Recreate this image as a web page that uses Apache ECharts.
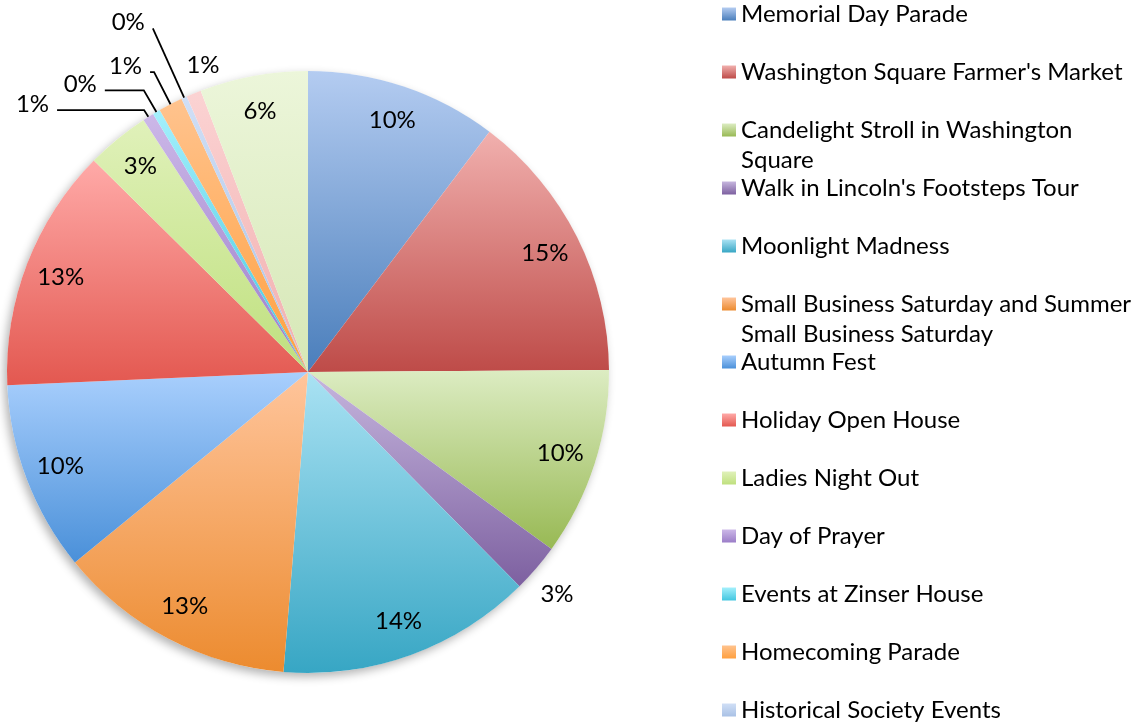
<!DOCTYPE html>
<html>
<head>
<meta charset="utf-8">
<script src="https://cdn.jsdelivr.net/npm/echarts@6/dist/echarts.min.js"></script>
<style>
  html, body { margin: 0; padding: 0; background: #fff; }
  #chart { width: 1137px; height: 726px; }
</style>
</head>
<body>
<div id="chart"></div>
<script>
// event names, clockwise from 12 o'clock (last two slices have no visible legend entry)
const events = [
  'Memorial Day Parade',
  "Washington Square Farmer's Market",
  'Candelight Stroll in Washington Square',
  "Walk in Lincoln's Footsteps Tour",
  'Moonlight Madness',
  'Small Business Saturday and Summer Small Business Saturday',
  'Autumn Fest',
  'Holiday Open House',
  'Ladies Night Out',
  'Day of Prayer',
  'Events at Zinser House',
  'Homecoming Parade',
  'Historical Society Events',
  '',
  ''
];

// share of each event (percent)
const shares = [10.3, 14.6, 10.1, 2.6, 13.7, 12.8, 10.2, 13.1, 3.4, 0.6, 0.4, 1.3, 0.3, 0.8, 5.8];

const legendNames = events.slice(0, 13);

// legend entries that wrap onto a second line
const wrapped = {
  'Candelight Stroll in Washington Square': 'Candelight Stroll in Washington\nSquare',
  'Small Business Saturday and Summer Small Business Saturday': 'Small Business Saturday and Summer\nSmall Business Saturday'
};

const topColors = ['#b4ccf1', '#f1b0ae', '#dcecc2', '#c6b6de', '#aae2f3', '#ffc59c',
  '#a9cffd', '#ffaaa8', '#e0f1ba', '#ccb8e8', '#a4f0fc', '#ffc38e', '#d0dff6', '#fbd3d3', '#ecf6da'];
const bottomColors = ['#4a7ebb', '#be4b48', '#98b954', '#7d60a0', '#37a6c4', '#ec8b2f',
  '#4a90d9', '#e35850', '#bfe07e', '#9b7dc8', '#42c6e0', '#ffa03f', '#a9c1e5', '#f1aeae', '#d6e7b6'];

// labels placed outside the pie: [line length, line length2, show line]
const outerLabels = {
  3: [49, -41, false],
  9: [8, 87, true],
  10: [25, 39, true],
  11: [36, 4, true],
  12: [76, 0, true],
  13: [24, -43, false]
};

const center = [308, 372];
const radius = 301;
const font = 'Lato, "Open Sans", sans-serif';

const chart = echarts.init(document.getElementById('chart'));

const grad = (i) => new echarts.graphic.LinearGradient(0, 0, 0, 1, [
  { offset: 0, color: topColors[i] },
  { offset: 1, color: bottomColors[i] }
]);

const sliceData = events.map((name, i) => ({
  name: name,
  value: shares[i],
  itemStyle: { color: grad(i) }
}));

const labelData = events.map((name, i) => {
  const item = { name: name, value: shares[i] };
  const o = outerLabels[i];
  if (o) {
    item.label = { position: 'outside' };
    item.labelLine = { show: o[2], length: o[0], length2: o[1] };
  }
  return item;
});

const legends = legendNames.map((name, i) => ({
  data: [name],
  orient: 'vertical',
  left: 722,
  top: 14 + 58 * i - (wrapped[name] ? 45 : 15),
  padding: 0,
  itemWidth: 14,
  itemHeight: 13,
  icon: 'rect',
  selectedMode: false,
  formatter: (n) => wrapped[n] ? '\n' + wrapped[n] : n,
  textStyle: { fontFamily: font, fontSize: 24, color: '#000', lineHeight: 30 }
}));

chart.setOption({
  backgroundColor: '#fff',
  animation: false,
  legend: legends,
  series: [
    {
      // soft shadow behind the pie
      type: 'pie',
      silent: true,
      center: center,
      radius: radius,
      data: [shares.reduce((a, b) => a + b, 0)],
      label: { show: false },
      labelLine: { show: false },
      itemStyle: {
        color: '#fff',
        shadowBlur: 10,
        shadowColor: 'rgba(0,0,0,0.3)',
        shadowOffsetX: -3,
        shadowOffsetY: 4
      },
      z: 1
    },
    {
      type: 'pie',
      center: center,
      radius: radius,
      startAngle: 90,
      clockwise: true,
      silent: true,
      data: sliceData,
      label: { show: false },
      labelLine: { show: false },
      itemStyle: { borderWidth: 0 },
      z: 2
    },
    {
      // transparent ring that carries the percentage labels
      type: 'pie',
      center: center,
      radius: [223, radius],
      startAngle: 90,
      clockwise: true,
      silent: true,
      legendHoverLink: false,
      avoidLabelOverlap: false,
      data: labelData,
      itemStyle: { color: 'rgba(0,0,0,0)' },
      label: {
        show: true,
        position: 'inside',
        formatter: (p) => {
          const t = Math.round(p.percent) + '%';
          // outside labels sit a little above their leader line
          return outerLabels[p.dataIndex] ? '{t|' + t + '}\n{s|}' : t;
        },
        fontFamily: font,
        fontSize: 24,
        color: '#000',
        rich: {
          t: { fontFamily: font, fontSize: 24, color: '#000', lineHeight: 28 },
          s: { fontSize: 1, lineHeight: 12 }
        },
        distanceToLabelLine: 8
      },
      labelLine: {
        show: true,
        lineStyle: { color: '#000', width: 1.8 }
      },
      z: 3
    }
  ]
});
</script>
</body>
</html>
